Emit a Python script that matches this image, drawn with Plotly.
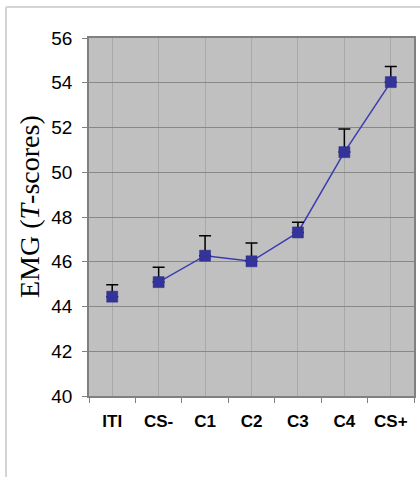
import plotly.graph_objects as go

categories = ["ITI", "CS-", "C1", "C2", "C3", "C4", "CS+"]
means = [44.44, 45.09, 46.27, 46.02, 47.31, 50.90, 54.03]
errors = [0.53, 0.66, 0.89, 0.82, 0.45, 1.03, 0.70]
connected = [False, True, True, True, True, True, True]
y_ticks = [40, 42, 44, 46, 48, 50, 52, 54, 56]

idx = list(range(len(categories)))
line_y = [m if c else None for m, c in zip(means, connected)]

W, H = 420, 477
L, R, T, B = 89, 6, 38, 81
pw, ph = W - L - R, H - T - B

fig = go.Figure()
# connecting line (ITI not connected)
fig.add_trace(go.Scatter(
    x=idx, y=line_y, mode="lines",
    line=dict(color="#3c3cb0", width=1.5),
    connectgaps=False, hoverinfo="skip", showlegend=False))
# upper error bars only
fig.add_trace(go.Scatter(
    x=idx, y=means, mode="markers",
    marker=dict(size=1, opacity=0),
    error_y=dict(type="data", array=errors, symmetric=False,
                 arrayminus=[0] * len(errors),
                 color="#000000", thickness=1.5, width=6),
    hoverinfo="skip", showlegend=False))
# markers on top
fig.add_trace(go.Scatter(
    x=idx, y=means, mode="markers",
    marker=dict(symbol="square", size=11, color="#333399",
                line=dict(color="#2a2a8a", width=0.5)),
    showlegend=False))

fig.update_layout(
    width=W, height=H,
    margin=dict(l=L, r=R, t=T, b=B, autoexpand=False),
    paper_bgcolor="white", plot_bgcolor="#c0c0c0",
    font=dict(family="Liberation Sans, Arial", color="#000000"),
    xaxis=dict(
        range=[-0.5, len(categories) - 0.5],
        tickvals=idx, ticktext=categories,
        ticks="", showgrid=True, gridcolor="#a9a9a9", gridwidth=1,
        tickfont=dict(family="Liberation Sans, Arial", size=17, color="#000",
                      weight="bold"),
        ticklabelstandoff=9,
        showline=True, linecolor="#808080", linewidth=1.5, mirror=True,
        zeroline=False,
        minor=dict(tick0=0.5, dtick=1, ticks="outside", ticklen=5,
                   tickcolor="#808080", tickwidth=1, showgrid=False),
    ),
    yaxis=dict(
        range=[40, 56], tickvals=y_ticks,
        ticks="outside", ticklen=5, tickcolor="#808080",
        showgrid=True, gridcolor="#888888", gridwidth=1,
        tickfont=dict(family="Liberation Sans, Arial", size=19, color="#000"),
        ticklabelstandoff=6,
        showline=True, linecolor="#808080", linewidth=1.5, mirror=True,
        zeroline=False,
    ),
)

# y-axis title as rotated annotation
fig.add_annotation(
    text="EMG (<i>T</i>-scores)", textangle=-90,
    xref="paper", yref="paper",
    x=(29 - L) / pw, y=(H - B - 207) / ph,
    xanchor="center", yanchor="middle", showarrow=False,
    font=dict(family="Liberation Serif, Times New Roman", size=28, color="#000"))

# outer chart frame (partially visible, light gray)
x_left = (6 - L) / pw
y_top = 1 + (T - 7) / ph
y_bot = -(B + 2) / ph
x_right = (W - L + 2) / pw
fig.add_shape(type="line", xref="paper", yref="paper",
              x0=x_left, x1=x_left, y0=y_bot, y1=y_top,
              line=dict(color="#d4d4d4", width=2), layer="above")
fig.add_shape(type="line", xref="paper", yref="paper",
              x0=x_left, x1=x_right, y0=y_top, y1=y_top,
              line=dict(color="#d4d4d4", width=2), layer="above")

fig.write_html("out.html",
               config={"displayModeBar": False},
               post_script="document.body.style.margin='0';document.body.style.overflow='hidden';")
